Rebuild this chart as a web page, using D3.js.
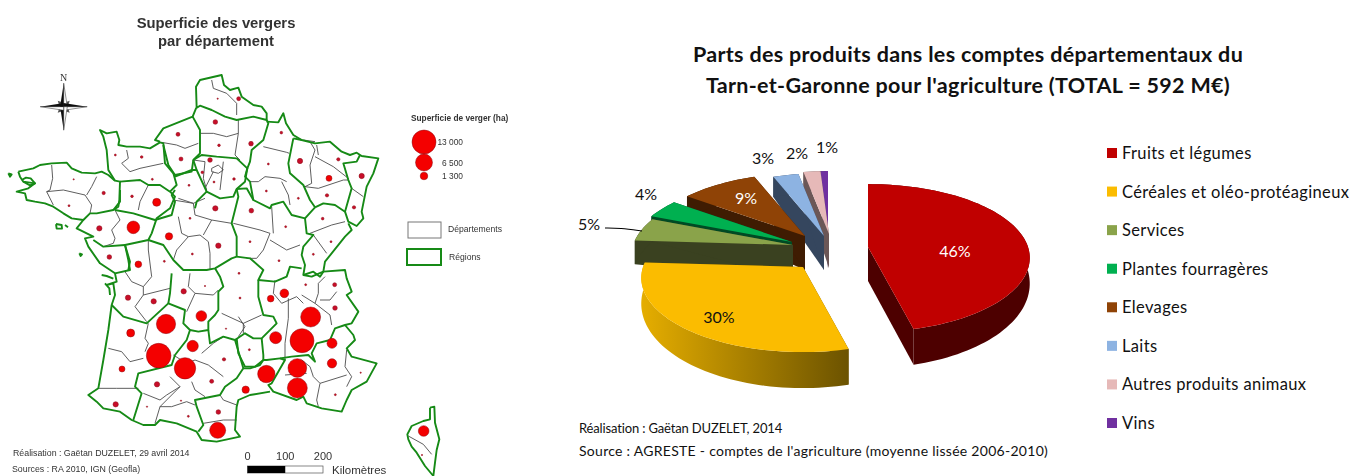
<!DOCTYPE html>
<html>
<head>
<meta charset="utf-8">
<style>
html,body{margin:0;padding:0;background:#fff;overflow:hidden}
.map text{font-family:"Liberation Sans",Arial,sans-serif;fill:#333}
.pie text{font-family:Lato,"Open Sans",sans-serif;fill:#111}
</style>
<script src="https://cdn.jsdelivr.net/npm/d3@7"></script>
</head>
<body>
<div id="chart"></div>
<script>
// ---- pie data
const products = ["Fruits et légumes","Céréales et oléo-protéagineux","Services","Plantes fourragères","Elevages","Laits","Autres produits animaux","Vins"];
const shares = [46,30,5,4,9,3,2,1];
const topColors = ["#c00000","#fbbc00","#8aa34a","#00b050","#8f4306","#8db3e2","#e6b9b8","#7030a0"];
const sideColors = ["#4d0000","url(#rimYellow)","#3a4120","#004a24","#3f1c02","#35465e","#6b5757","#2e1548"];
const explode = [[48,-3],[-17,17],[-27,-5],[-28,-8],[-15,-14],[4,-14],[9,-16],[8,-16]];
const paintOrder = [7,6,5,4,3,2,1,0];
const labelPlace = [[955,251,"#fff"],[719,317,"#111"],[589,224,"#111"],[646,194,"#111"],[746,198,"#fff"],[763,158,"#111"],[797,153,"#111"],[827,147,"#111"]];

const regionBorders = [
 // Bretagne
 [[55,515],[60,530],[70,545],[105,550],[85,565],[50,575],[75,580],[80,600],[105,605],[135,610],[160,620],[190,640],[215,655],[250,660],[270,640],[290,640],[340,630],[355,620],[358,600],[360,545],[345,542],[325,525],[305,515],[285,520],[245,518],[215,505],[200,488],[155,490],[120,495],[100,505],[55,515]],
 [[65,540],[78,533],[92,535],[105,550],[90,556],[70,545]],
 // Pays de la Loire
 [[360,545],[420,540],[445,555],[480,555],[510,575],[525,590],[510,625],[470,655],[455,700],[445,720],[375,735],[385,780],[390,810],[345,820],[300,790],[265,740],[255,715],[280,710],[230,685],[250,660]],
 [[280,720],[310,740],[375,735]],
 // Normandie
 [[345,542],[325,510],[320,450],[310,410],[300,390],[320,400],[350,395],[358,420],[355,435],[380,440],[420,440],[450,445],[480,427],[490,430],[495,490],[520,520],[530,555],[510,575]],
 [[480,425],[465,420],[490,385],[578,350],[600,390],[600,460],[580,480],[575,515],[525,525],[505,495],[490,435]],
 // Nord, Picardie
 [[590,325],[588,260],[600,240],[665,225],[672,255],[690,270],[715,263],[725,290],[760,315],[785,320],[800,340],[800,360],[760,350],[710,360],[675,350],[635,330],[600,317],[588,325],[578,350]],
 [[800,360],[805,370],[790,420],[755,450],[750,485],[742,505]],
 // Ile-de-France
 [[580,480],[605,465],[650,470],[710,475],[742,505],[735,545],[710,567],[700,590],[660,595],[620,575],[590,510],[580,480]],
 [[525,530],[575,510],[590,510]],[[620,575],[590,605],[585,625]],
 // Champagne, Lorraine, Alsace
 [[800,365],[835,367],[850,340],[858,370],[880,405],[905,420]],
 [[742,505],[735,530],[750,545],[760,600],[810,625],[815,615],[850,605],[875,645],[915,655]],
 [[710,567],[740,565],[760,600]],
 [[880,415],[865,490],[870,520],[910,555],[930,600],[945,622]],
 [[880,415],[905,420],[945,430],[990,425],[1025,455],[1050,465],[1070,458],[1085,468],[1135,475],[1120,520],[1100,560],[1085,635],[1090,655],[1070,678],[1045,665],[1035,635],[1055,565],[1045,540],[1030,490],[1070,485],[1080,465]],
 [[945,622],[970,610],[1005,615],[1035,635]],
 // Franche-Comte
 [[945,622],[915,655],[920,700],[940,705],[910,740],[905,765],[915,795],[910,825],[935,830],[970,815],[975,785],[1035,710],[1055,690],[1045,670]],
 // Centre, Bourgogne
 [[360,570],[360,605],[340,630]],
 [[345,630],[400,640],[465,660],[515,645],[525,605],[515,585],[525,570]],
 [[445,720],[490,735],[520,780],[550,810],[620,810],[645,805],[695,775],[710,770],[710,710],[695,670],[705,630],[715,590],[710,567]],
 [[710,770],[750,775],[790,810],[775,840],[825,845],[860,830],[870,800],[905,805]],
 // Poitou, Limousin, Auvergne
 [[375,735],[390,785],[385,810]],
 [[515,820],[510,880],[505,910]],
 [[645,805],[660,830],[670,860],[655,875],[655,930],[645,945],[625,965],[625,990],[595,995],[570,990]],
 [[345,820],[350,845],[320,855],[340,850],[345,885],[335,915]],
 // Aquitaine and the Atlantic coast
 [[335,915],[325,990],[310,1080],[295,1165],[265,1185],[290,1205],[310,1225],[360,1235],[395,1260],[430,1275],[465,1275],[480,1260],[530,1270],[590,1295],[605,1320],[650,1325],[720,1310],[705,1290],[710,1220],[715,1200],[750,1185],[810,1175]],
 [[335,915],[370,950],[440,970],[505,910],[555,930],[550,970],[570,990],[560,1020],[525,1065],[515,1095],[415,1120],[405,1160],[425,1180],[400,1260]],
 // Midi-Pyrenees, Languedoc
 [[625,990],[630,1030],[670,1010],[705,1020],[720,1070],[730,1105],[710,1135],[675,1160],[660,1185],[585,1200],[590,1220],[610,1275],[595,1295]],
 [[705,1020],[735,1000],[760,1015],[785,1015],[830,970],[820,950],[790,945],[775,890],[775,840]],
 [[710,1015],[715,1060],[735,1100],[765,1100],[790,1080]],
 [[730,1105],[750,1105],[780,1095],[790,1080],[790,1065],[785,1015]],
 // Rhone-Alpes, Provence
 [[910,825],[940,815],[960,830],[970,815],[1035,810],[1040,835],[1055,875],[1040,885],[1075,935],[1055,970],[1035,975],[1005,985],[990,1020],[950,1030],[935,1060],[945,1085],[925,1065],[875,1070],[840,1075],[800,1080],[790,1080]],
 [[1035,975],[1060,1005],[1065,1020],[1040,1045],[1055,1070],[1130,1090],[1100,1145],[1055,1170],[1040,1200],[1025,1235],[965,1225],[920,1210],[910,1190],[890,1200],[820,1175],[805,1155],[815,1150],[855,1080],[840,1075]],
 // Corsica
 [[1290,1223],[1303,1220],[1305,1268],[1318,1318],[1310,1350],[1305,1388],[1300,1428],[1285,1410],[1275,1398],[1250,1358],[1235,1340],[1225,1318],[1222,1303],[1235,1278],[1270,1263],[1290,1258],[1290,1223]],
 // islands
 [[168,672],[185,675],[186,686],[170,686],[168,672]],[[25,520],[35,523],[30,530],[25,520]],[[238,760],[246,763],[242,768],[238,760]],
 [[305,825],[320,828],[340,836]],[[315,850],[328,865],[330,885]],[[195,675],[204,682]]
];
const departmentBorders = [
 [[635,240],[640,265],[680,280],[710,310],[710,345]],[[715,360],[715,400],[705,465],[720,480]],[[600,400],[640,400],[680,410],[715,400]],
 [[485,427],[530,435],[555,445],[595,430]],[[380,450],[385,475],[365,490],[390,515],[420,505],[490,490]],
 [[580,480],[615,485],[610,535],[620,570]],[[670,485],[660,570]],[[635,505],[655,495],[670,510],[655,520],[635,515],[635,505]],[[640,515],[615,565]],
 [[535,595],[580,610],[615,595]],
 [[155,495],[158,535],[150,570],[140,575],[160,615]],[[140,575],[190,570],[255,585],[275,615],[270,640]],[[290,530],[275,560],[260,585]],
 [[445,555],[420,605],[415,630]],[[345,630],[360,660],[335,690],[345,715],[340,730],[310,740]],
 [[520,600],[580,610],[585,645],[635,660],[610,705]],[[535,650],[545,700],[565,710],[530,750],[520,780]],[[565,710],[600,705],[625,725],[630,760],[630,810]],[[635,660],[695,670]],
 [[700,670],[780,690],[810,700],[790,750],[770,775],[740,775]],[[810,720],[860,750],[900,735]],[[820,700],[815,620]],
 [[445,720],[445,750],[455,830],[430,860],[395,845],[375,815]],[[430,860],[430,885],[405,920],[440,965]],[[510,865],[430,885]],
 [[570,820],[565,860],[585,880],[560,935]],[[585,880],[640,885],[655,870]],[[665,940],[730,970],[785,945]],[[730,970],[730,1000]],
 [[445,970],[435,1015],[445,1030],[435,1055]],[[325,1045],[365,1055],[390,1085],[430,1075]],[[295,1165],[350,1165],[415,1165]],
 [[520,1065],[560,1090],[585,1080],[625,1095],[670,1130]],[[605,1060],[640,1030],[670,1010]],[[510,1130],[540,1160],[480,1220],[465,1270]],
 [[430,1180],[480,1200],[500,1185],[540,1160]],[[575,1145],[585,1170],[615,1190]],[[480,1220],[515,1220],[560,1205],[585,1215]],[[610,1270],[670,1260],[710,1260]],[[660,1185],[670,1200],[710,1215]],
 [[790,440],[860,457],[868,460]],[[750,545],[775,545],[795,530],[840,535],[860,545]],[[845,545],[865,585],[870,615]],
 [[930,425],[945,450],[930,495],[935,550],[915,560],[955,565],[1030,540],[1045,540]],[[945,470],[1000,500],[1045,535]],[[950,435],[955,465]],[[910,420],[945,425]],[[1055,565],[1090,590]],
 [[930,700],[995,675],[1035,665]],[[940,705],[980,760]],[[715,950],[735,980],[715,1010]],
 [[825,840],[820,880],[845,910],[890,890],[910,910]],[[865,895],[865,955],[855,1030],[855,1080]],[[905,885],[945,910],[955,880],[955,850],[975,830]],[[945,910],[990,945],[995,975]],[[1010,875],[990,900],[960,900]],
 [[905,1080],[930,1100],[940,1130],[960,1150],[1040,1125]],[[1040,1050],[1035,1100],[1055,1130],[1040,1160]],[[960,1150],[950,1200],[955,1220]],[[855,1125],[920,1120]],
 [[1225,1308],[1270,1333],[1295,1363]]
];
const orchards = [
 [653,296,40],[716,296,360],[646,366,490],[534,403,360],[657,436,160],[753,431,490],[844,398,160],[346,465,90],[425,471,160],[543,477,360],
 [630,480,490],[607,517,160],[642,546,90],[702,537,160],[805,492,90],[900,483,640],[1015,478,250],[1085,528,640],[987,535,810],[981,586,250],
 [895,595,90],[567,556,90],[457,538,90],[311,579,250],[221,538,40],[207,617,90],[396,589,160],[470,607,1440],[799,573,90],[646,625,640],
 [754,632,490],[1062,622,250],[968,656,160],[298,685,640],[400,682,3600],[507,709,1210],[570,655,90],[857,680,90],
 [655,737,640],[750,725,90],[993,725,90],[328,771,490],[415,793,1000],[493,784,90],[577,762,90],[837,782,90],[940,763,90],[717,820,90],
 [1004,854,360],[615,858,40],[917,854,90],[853,880,1700],[812,896,1000],[551,874,640],[384,893,640],[461,904,640],[720,894,90],[1005,924,490],
 [604,948,2570],[932,951,9000],[498,972,8400],[392,999,1440],[678,986,40],[827,1013,3250],[906,1022,13000],[996,1030,2260],[578,1038,2900],
 [476,1067,13700],[996,1090,1970],[748,1049,90],[672,1078,250],[555,1105,10300],[892,1104,7900],[366,1107,810],[799,1122,6800],[635,1144,360],
 [471,1153,640],[892,1164,9000],[1082,1118,40],[737,1169,1210],[1006,1184,90],[347,1213,640],[441,1220,40],[655,1236,490],[565,1249,90],
 [653,1291,5800],[543,1202,40],[1271,1293,2570],[1266,1365,40]
];
const legendValues = [13000,6500,1300];
const legendLabels = ["13 000","6 500","1 300"];
const scaleKm = [0,100,200];

const svg = d3.select("#chart").append("svg").attr("width",1353).attr("height",476);
const defs = svg.append("defs");
defs.append("filter").attr("id","soft").attr("x",0).attr("y",0).attr("width",1).attr("height",1)
  .append("feGaussianBlur").attr("stdDeviation",0.4);
const rimGrad = defs.append("linearGradient").attr("id","rimYellow").attr("gradientUnits","userSpaceOnUse")
  .attr("x1",640).attr("x2",850).attr("y1",0).attr("y2",0);
rimGrad.append("stop").attr("offset",0).attr("stop-color","#e6ae00");
rimGrad.append("stop").attr("offset",1).attr("stop-color","#6b5200");

// ---- left: map
const mapG = svg.append("g").attr("class","map").attr("filter","url(#soft)");
mapG.append("rect").attr("width",530).attr("height",476).attr("fill","#fff");
const tx = d3.scaleLinear().domain([0,1500]).range([0,500]);
const ty = d3.scaleLinear().domain([0,1428]).range([0,476]);
const radius = d3.scaleSqrt().domain([0,13000]).range([0,12]);
const outline = d3.line().x(d => tx(d[0])).y(d => ty(d[1]));
const dotFill = ha => ha < 700 ? "#c8102a" : "#f40000";

mapG.append("g").selectAll("path").data(departmentBorders).join("path")
  .attr("d",outline).attr("fill","none").attr("stroke","#4c4c4c").attr("stroke-width",0.9);
mapG.append("g").selectAll("path").data(regionBorders).join("path")
  .attr("d",outline).attr("fill","none").attr("stroke","#158a15").attr("stroke-width",1.9).attr("stroke-linejoin","round");
mapG.append("g").selectAll("circle").data(orchards).join("circle")
  .attr("cx",d => tx(d[0])).attr("cy",d => ty(d[1])).attr("r",d => radius(d[2]))
  .attr("fill",d => dotFill(d[2])).attr("stroke","#8b0a14").attr("stroke-width",0.5);

mapG.append("text").attr("x",216).attr("y",28).attr("text-anchor","middle").attr("font-size",14.8).attr("font-weight","bold").text("Superficie des vergers");
mapG.append("text").attr("x",216).attr("y",46).attr("text-anchor","middle").attr("font-size",14.8).attr("font-weight","bold").text("par département");

// north arrow
const north = mapG.append("g").attr("transform","translate(63.7,106.7)");
north.append("text").attr("y",-26).attr("text-anchor","middle").attr("font-size",10).style("font-family","Liberation Serif,serif").text("N");
[[5,-5],[5,5],[-5,5],[-5,-5]].forEach(p => {
  north.append("path").attr("d",`M${p[0]*0.3},${p[1]*0.9}L${p[0]*1.2},${p[1]*1.2}L${p[0]*0.9},${p[1]*0.3}Z`).attr("fill","#555");
});
[[0,-23.5],[23.5,0],[0,23.5],[-23.5,0]].forEach(p => {
  const w = 3.6, q = [p[1] ? w : 0, p[0] ? w : 0];
  north.append("path").attr("d",`M0,0L${p[0]},${p[1]}L${q[0]},${q[1]}Z`).attr("fill","#fff").attr("stroke","#222").attr("stroke-width",0.5);
  north.append("path").attr("d",`M0,0L${p[0]},${p[1]}L${-q[0]},${-q[1]}Z`).attr("fill","#111");
});

// map legend
mapG.append("text").attr("x",411).attr("y",121).attr("font-size",8.3).attr("font-weight","bold").text("Superficie de verger (ha)");
const legendY = d3.scaleOrdinal().domain(legendValues).range([142,162.5,176]);
mapG.append("g").selectAll("circle").data(legendValues).join("circle")
  .attr("cx",424).attr("cy",d => legendY(d)).attr("r",d => radius(d))
  .attr("fill","#f40000").attr("stroke","#8b0a14").attr("stroke-width",0.5);
mapG.append("g").selectAll("text").data(legendValues).join("text")
  .attr("x",463).attr("y",d => legendY(d) + 3).attr("text-anchor","end").attr("font-size",8.4)
  .text((d,i) => legendLabels[i]);
mapG.append("rect").attr("x",408).attr("y",222).attr("width",33).attr("height",16).attr("fill","#fff").attr("stroke","#777");
mapG.append("text").attr("x",448).attr("y",232).attr("font-size",8.6).text("Départements");
mapG.append("rect").attr("x",407).attr("y",249).attr("width",34).attr("height",16).attr("fill","#fff").attr("stroke","#158a15").attr("stroke-width",2);
mapG.append("text").attr("x",449).attr("y",260).attr("font-size",8.6).text("Régions");

mapG.append("text").attr("x",13).attr("y",456).attr("font-size",8.8).text("Réalisation : Gaëtan DUZELET, 29 avril 2014");
mapG.append("text").attr("x",12).attr("y",472).attr("font-size",8.8).text("Sources : RA 2010, IGN (Geofla)");

// scale bar
const km = d3.scaleLinear().domain([0,200]).range([247.5,323]);
mapG.append("g").selectAll("text").data(scaleKm).join("text")
  .attr("x",d => km(d)).attr("y",460).attr("text-anchor","middle").attr("font-size",11).text(d => d);
mapG.append("rect").attr("x",km(0)).attr("y",466).attr("width",km(200)-km(0)).attr("height",7).attr("fill","#fff").attr("stroke","#555").attr("stroke-width",0.7);
mapG.append("rect").attr("x",km(0)).attr("y",466).attr("width",km(100)-km(0)).attr("height",7).attr("fill","#000");
mapG.append("text").attr("x",332).attr("y",474).attr("font-size",11.5).text("Kilomètres");

// ---- right: exploded 3D pie
const pieG = svg.append("g").attr("class","pie");
pieG.append("text").attr("x",968).attr("y",62).attr("text-anchor","middle").attr("font-size",21.5).attr("letter-spacing",0.32).attr("font-weight","bold").text("Parts des produits dans les comptes départementaux du");
pieG.append("text").attr("x",968).attr("y",93).attr("text-anchor","middle").attr("font-size",21.5).attr("letter-spacing",0.32).attr("font-weight","bold").text("Tarn-et-Garonne pour l'agriculture (TOTAL = 592 M€)");

const slices = d3.pie().sort(null)(shares);
const centre = [820,250], RX = 160, RY = 74, PERSP = 0.15, APEX_DEPTH = 34;
const rimDepth = v => v >= 0 ? 24 + 12 * v : 24 + 4 * v;
const apexOf = i => [centre[0] + explode[i][0], centre[1] + explode[i][1]];
const rimPoint = (a, apex) => {
  const u = Math.sin(a), v = -Math.cos(a), s = 1 + PERSP * v;
  return {x: apex[0] + RX * u * s, y: apex[1] + RY * v * s, d: rimDepth(v)};
};
const poly = d3.line();

paintOrder.forEach(i => {
  const sl = slices[i], apex = apexOf(i);
  const n = Math.max(4, Math.ceil((sl.endAngle - sl.startAngle) * 30));
  const rim = d3.range(n + 1).map(k => rimPoint(sl.startAngle + (sl.endAngle - sl.startAngle) * k / n, apex));
  const first = rim[0], last = rim[n];
  const g = pieG.append("g");
  // cut faces
  [first, last].forEach(p => {
    g.append("path").attr("d",poly([apex,[p.x,p.y],[p.x,p.y+p.d],[apex[0],apex[1]+APEX_DEPTH]]) + "Z").attr("fill",i === 1 ? "#6b5200" : sideColors[i]);
  });
  // outer rim
  const band = rim.map(p => [p.x,p.y]).concat(rim.slice().reverse().map(p => [p.x,p.y+p.d]));
  g.append("path").attr("d",poly(band) + "Z").attr("fill",sideColors[i]);
  // top face
  g.append("path").attr("d",poly([apex].concat(rim.map(p => [p.x,p.y]))) + "Z").attr("fill",topColors[i]);
});

// leader for the 5% label
pieG.append("path").attr("d",d3.line().curve(d3.curveBasis)([[605,228],[620,228],[642,231]])).attr("fill","none").attr("stroke","#000").attr("stroke-width",1.2);

pieG.append("g").selectAll("text").data(shares).join("text")
  .attr("x",(d,i) => labelPlace[i][0]).attr("y",(d,i) => labelPlace[i][1] + 6)
  .attr("text-anchor","middle").attr("font-size",16).style("fill",(d,i) => labelPlace[i][2])
  .text(d => d + "%");

// pie legend
const legendRow = d3.scalePoint().domain(products).range([153,423]);
const rows = pieG.append("g").selectAll("g").data(products).join("g")
  .attr("transform",d => `translate(1107,${legendRow(d)})`);
rows.append("rect").attr("y",-5).attr("width",10).attr("height",10).attr("fill",(d,i) => topColors[i]);
rows.append("text").attr("x",15).attr("y",6).attr("font-size",16.5).attr("letter-spacing",0.35).text(d => d);

pieG.append("text").attr("x",579).attr("y",433).attr("font-size",13).attr("letter-spacing",-0.15).text("Réalisation : Gaëtan DUZELET, 2014");
pieG.append("text").attr("x",579).attr("y",456).attr("font-size",14).attr("letter-spacing",0.28).text("Source : AGRESTE - comptes de l'agriculture (moyenne lissée 2006-2010)");
</script>
</body>
</html>
